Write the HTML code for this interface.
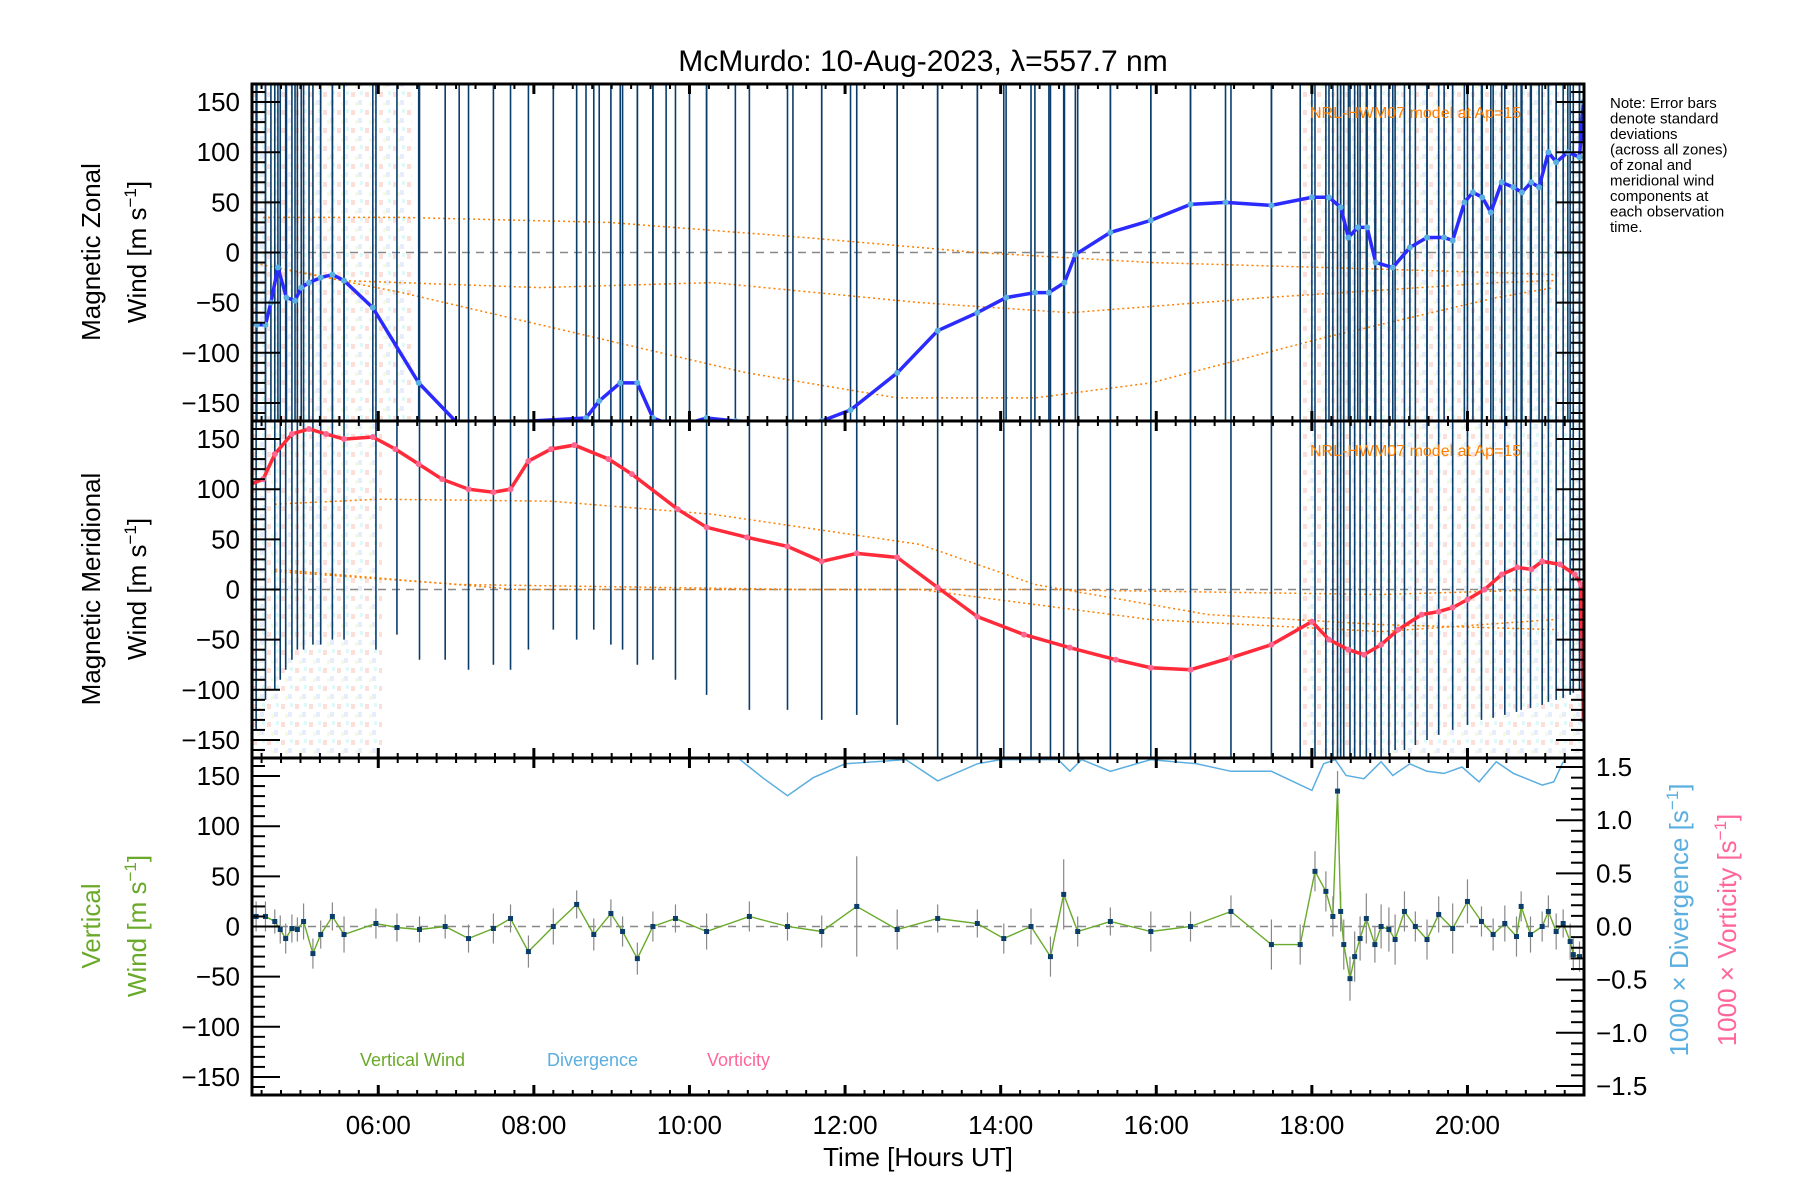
<!DOCTYPE html>
<html><head><meta charset="utf-8"><style>
html,body{margin:0;padding:0;background:#fff}
svg{display:block}
text{font-family:"Liberation Sans",sans-serif}
</style></head><body>
<svg id="chart" width="1800" height="1200" viewBox="0 0 1800 1200" xmlns="http://www.w3.org/2000/svg">
<defs>
<pattern id="scat" width="14" height="18" patternUnits="userSpaceOnUse">
<rect x="1" y="2" width="4" height="5" fill="#f9b8a8"/><rect x="8" y="10" width="4" height="5" fill="#c8d8f8"/><rect x="5" y="12" width="3" height="4" fill="#e8f8b0"/><rect x="10" y="1" width="3" height="4" fill="#b8f0f0"/>
</pattern>
<clipPath id="c0"><rect x="252" y="84" width="1332" height="337"/></clipPath>
<clipPath id="c1"><rect x="252" y="421" width="1332" height="337"/></clipPath>
<clipPath id="c2"><rect x="252" y="758" width="1332" height="336"/></clipPath>
</defs>
<text x="923" y="71" font-size="30" text-anchor="middle">McMurdo: 10-Aug-2023, λ=557.7 nm</text>
<g id="g"></g>
<g font-size="15">
<text x="1610" y="108">Note: Error bars</text><text x="1610" y="123.5">denote standard</text><text x="1610" y="139">deviations</text><text x="1610" y="154.5">(across all zones)</text><text x="1610" y="170">of zonal and</text><text x="1610" y="185.5">meridional wind</text><text x="1610" y="201">components at</text><text x="1610" y="216.5">each observation</text><text x="1610" y="232">time.</text>
</g>
</svg>
<script>
// ---- data ----
const zonalT=[4.36,4.44,4.55,4.62,4.71,4.82,4.93,5.01,5.11,5.26,5.41,5.56,5.93,6.52,7.04,8.67,8.84,9.11,9.33,9.53,9.70,10.0,10.22,10.59,11.33,11.70,12.07,12.67,13.19,13.70,14.07,14.44,14.62,14.82,14.96,15.41,15.93,16.44,16.89,17.48,18.0,18.22,18.37,18.47,18.59,18.71,18.82,19.04,19.26,19.48,19.70,19.81,19.96,20.07,20.19,20.30,20.44,20.59,20.70,20.82,20.92,21.04,21.14,21.29,21.44,21.49];
const zonalV=[-70,-72,-72,-50,-15,-45,-48,-35,-30,-25,-22,-28,-55,-130,-172,-165,-148,-130,-130,-165,-170,-170,-165,-168,-170,-168,-157,-120,-78,-60,-45,-40,-40,-30,-2,20,32,48,50,47,55,55,45,15,25,25,-10,-15,5,15,15,12,50,60,55,40,70,65,60,70,65,100,90,100,95,150];
const meridT=[4.36,4.52,4.67,4.89,5.11,5.33,5.56,5.93,6.22,6.52,6.82,7.16,7.48,7.70,7.93,8.22,8.52,8.96,9.26,9.85,10.22,10.74,11.26,11.70,12.15,12.67,13.19,13.70,14.30,14.89,15.48,15.93,16.44,16.96,17.48,18.0,18.22,18.47,18.67,18.89,19.11,19.41,19.63,19.81,20.0,20.22,20.44,20.64,20.82,20.96,21.19,21.38,21.46,21.49];
const meridV=[105,110,135,155,160,155,150,152,140,125,110,100,97,100,128,140,144,130,115,80,62,52,43,28,36,32,2,-27,-45,-58,-70,-78,-80,-68,-55,-32,-50,-60,-65,-55,-40,-25,-22,-18,-10,0,15,22,20,28,25,15,5,-130];
const vertT=[4.43,4.55,4.67,4.74,4.81,4.89,4.96,5.04,5.16,5.26,5.41,5.56,5.97,6.24,6.53,6.86,7.16,7.48,7.70,7.93,8.25,8.55,8.77,8.99,9.14,9.33,9.53,9.82,10.22,10.77,11.26,11.70,12.15,12.67,13.19,13.70,14.04,14.39,14.64,14.81,14.99,15.41,15.93,16.44,16.96,17.48,17.85,18.04,18.18,18.27,18.33,18.37,18.41,18.49,18.55,18.62,18.70,18.81,18.89,18.99,19.07,19.19,19.33,19.48,19.63,19.81,20.0,20.18,20.33,20.48,20.63,20.69,20.81,20.96,21.04,21.14,21.23,21.32,21.36,21.44];
const vertV=[10,10,5,-3,-12,-2,-3,5,-27,-8,10,-8,3,-1,-3,0,-12,-2,8,-25,0,22,-8,13,-5,-32,0,8,-5,10,0,-5,20,-3,8,3,-12,0,-30,32,-5,5,-5,0,15,-18,-18,55,35,10,135,15,-18,-52,-30,-12,8,-18,0,-3,-13,15,0,-13,12,-2,25,5,-8,3,-10,20,-8,0,15,-5,3,-15,-28,-30];
const vertS=[15,15,12,14,15,14,12,18,15,14,14,18,15,14,13,12,14,15,14,16,18,14,16,14,15,16,15,14,18,15,14,16,50,20,14,14,15,18,20,35,15,14,20,15,16,25,20,20,20,20,20,20,25,22,25,22,25,18,22,22,25,20,15,20,18,25,22,15,16,18,20,15,18,15,16,18,14,18,16,15];
// lower end of meridional error bars at each observation time (m/s)
const merBot=[-140,-110,-100,-90,-80,-70,-60,-60,-55,-55,-50,-50,-60,-45,-70,-70,-80,-75,-80,-60,-40,-50,-40,-55,-60,-75,-70,-90,-105,-120,-120,-130,-125,-135,-170,-170,-170,-170,-170,-170,-170,-170,-170,-170,-170,-170,-170,-170,-170,-170,-170,-170,-170,-170,-170,-170,-170,-170,-170,-165,-160,-160,-155,-150,-145,-140,-135,-130,-128,-125,-122,-120,-118,-115,-112,-110,-108,-105,-103,-100];
const divT=[10.65,10.94,11.26,11.59,12.0,12.78,13.19,13.70,14.0,14.74,14.89,15.04,15.41,15.93,16.52,16.96,17.48,18.0,18.15,18.30,18.44,18.67,18.89,19.04,19.26,19.48,19.70,19.93,20.15,20.37,20.59,20.96,21.11,21.23];
const divV=[1.57,1.40,1.23,1.40,1.53,1.57,1.37,1.53,1.57,1.57,1.46,1.57,1.46,1.57,1.53,1.46,1.46,1.28,1.53,1.57,1.42,1.39,1.55,1.42,1.53,1.46,1.44,1.50,1.36,1.55,1.44,1.33,1.36,1.55];
const modA_T=[4.52,6.3,8.96,11.48,13.70,15.93,18.15,20.37,21.11], modA_V=[35,35,30,15,0,-10,-15,-20,-22];
const modB_T=[4.36,5.56,8.07,10.3,12.96,14.89,17.41,20.37,21.11], modB_V=[-10,-28,-35,-30,-50,-60,-45,-30,-28];
const modC_T=[4.67,6.3,8.52,10.74,12.67,14.44,15.93,18.15,20.37,21.11], modC_V=[-15,-40,-80,-120,-145,-145,-130,-85,-45,-35];
const modD_T=[4.67,6.0,8.22,10.3,12.96,14.44,16.67,18.89,21.11], modD_V=[85,90,88,75,45,5,-25,-35,-40];
const modE_T=[4.67,7.04,11.48,14.44,18.89,21.11], modE_V=[18,5,0,0,-5,0];
const modF_T=[4.67,7.78,12.96,15.93,18.89,21.11], modF_V=[20,0,0,-30,-42,-30];
const xTicks=[6,8,10,12,14,16,18,20];
const xTickLabels=["06:00","08:00","10:00","12:00","14:00","16:00","18:00","20:00"];
const yTicks=[-150,-100,-50,0,50,100,150];
const rTicks=[-1.5,-1.0,-0.5,0.0,0.5,1.0,1.5];
// ---- geometry ----
const L=252,R=1584,T0=4.377,PX=77.8;
const tops=[84,421,758],H=337;
const x=t=>L+(t-T0)*PX;
const y=(p,v)=>tops[p]+H/2-v*(H/2)/168;
const yr=v=>tops[2]+H/2-v*(H/2)/1.585;
const g=document.getElementById('g');
const NS='http://www.w3.org/2000/svg';
function mk(tag,attrs,parent){const e=document.createElementNS(NS,tag);for(const k in attrs)e.setAttribute(k,attrs[k]);(parent||g).appendChild(e);return e;}
function grp(name,clip){const e=mk('g',clip?{'clip-path':'url(#'+clip+')'}:{});


return e;}
const bg=grp('zone-scatter-background');
[[0,252,160],[0,1300,284],[1,252,130],[1,1300,284]].forEach(r=>{mk('rect',{x:r[1],y:tops[r[0]],width:r[2],height:H,fill:'url(#scat)',opacity:0.45},bg);});
for(let p=0;p<3;p++){const z=mk('line',{x1:L,x2:R,y1:y(p,0),y2:y(p,0),stroke:'#888','stroke-dasharray':'8,6','stroke-width':1.5});

}
function polyline(ts,vs,fn,attrs,parent){const pts=ts.map((t,i)=>x(t).toFixed(1)+','+fn(vs[i]).toFixed(1)).join(' ');return mk('polyline',Object.assign({points:pts,fill:'none'},attrs),parent);}
const mg0=grp('hwm07-model-zonal','c0');
[[modA_T,modA_V],[modB_T,modB_V],[modC_T,modC_V]].forEach(m=>polyline(m[0],m[1],v=>y(0,v),{stroke:'#ff7f00','stroke-width':1.5,'stroke-dasharray':'2,3'},mg0));
const mg1=grp('hwm07-model-meridional','c1');
[[modD_T,modD_V],[modE_T,modE_V],[modF_T,modF_V]].forEach(m=>polyline(m[0],m[1],v=>y(1,v),{stroke:'#ff7f00','stroke-width':1.5,'stroke-dasharray':'2,3'},mg1));
const eb0=grp('zonal-error-bars','c0');
zonalT.concat(vertT).forEach(t=>{const l=mk('line',{x1:x(t),x2:x(t),y1:tops[0],y2:tops[0]+H,stroke:'#0b3d6b','stroke-width':1.6},eb0);

});
const eb1=grp('meridional-error-bars','c1');
vertT.forEach((t,i)=>{const l=mk('line',{x1:x(t),x2:x(t),y1:tops[1],y2:y(1,merBot[i]),stroke:'#0b3d6b','stroke-width':1.6},eb1);

});
const zg=grp('zonal-wind-series','c0');
polyline(zonalT,zonalV,v=>y(0,v),{stroke:'#2b2bff','stroke-width':3.5},zg);
zonalT.forEach((t,i)=>{const c=mk('circle',{cx:x(t),cy:y(0,zonalV[i]),r:3,fill:'#5ab0e0'},zg);

});
const mgl=grp('meridional-wind-series','c1');
polyline(meridT,meridV,v=>y(1,v),{stroke:'#ff2a3a','stroke-width':3.5},mgl);
meridT.forEach((t,i)=>{const c=mk('circle',{cx:x(t),cy:y(1,meridV[i]),r:3,fill:'#ff6690'},mgl);

});
const dg=grp('divergence-series','c2');
polyline(divT,divV,yr,{stroke:'#5aaee0','stroke-width':1.5},dg);
const vg=grp('vertical-wind-series','c2');
vertT.forEach((t,i)=>{const l=mk('line',{x1:x(t),x2:x(t),y1:y(2,vertV[i]+vertS[i]),y2:y(2,vertV[i]-vertS[i]),stroke:'#888','stroke-width':1.2},vg);

});
polyline(vertT,vertV,v=>y(2,v),{stroke:'#6aaa2a','stroke-width':1.4},vg);
vertT.forEach((t,i)=>{const r=mk('rect',{x:x(t)-2.5,y:y(2,vertV[i])-2.5,width:5,height:5,fill:'#0b3d6b'},vg);

});
const ax=grp('axes');
for(let p=0;p<3;p++){const f=mk('rect',{x:L,y:tops[p],width:R-L,height:H,fill:'none',stroke:'#000','stroke-width':3},ax);


for(let t=4.5;t<21.6;t+=0.25){const xx=x(t);if(xx<L+2||xx>R-2)continue;const maj=Math.abs(t-Math.round(t/2)*2)<1e-6;const len=maj?10:5;
mk('line',{x1:xx,x2:xx,y1:tops[p],y2:tops[p]+len,stroke:'#000','stroke-width':maj?3:2},ax);
mk('line',{x1:xx,x2:xx,y1:tops[p]+H,y2:tops[p]+H-len,stroke:'#000','stroke-width':maj?3:2},ax);}
for(let v=-160;v<=160;v+=10){const yy=y(p,v);const maj=v%50===0;const len=maj?28:13;
mk('line',{x1:L,x2:L+len,y1:yy,y2:yy,stroke:'#000','stroke-width':2},ax);
if(p<2)mk('line',{x1:R,x2:R-len,y1:yy,y2:yy,stroke:'#000','stroke-width':2},ax);}
yTicks.forEach(v=>{const tx=mk('text',{x:L-12,y:y(p,v)+9,'font-size':26,'text-anchor':'end'},ax);tx.textContent=(v<0?'\u2212'+(-v):v);

});}
for(let v=-1.5;v<=1.51;v+=0.1){const yy=yr(v);const maj=Math.abs(v*2-Math.round(v*2))<1e-6;mk('line',{x1:R,x2:R-(maj?28:13),y1:yy,y2:yy,stroke:'#000','stroke-width':2},ax);}
rTicks.forEach(v=>{const tx=mk('text',{x:R+12,y:yr(v)+9,'font-size':26},ax);tx.textContent=(v<0?'\u2212':'')+Math.abs(v).toFixed(1);

});
xTicks.forEach((t,i)=>{const tx=mk('text',{x:x(t),y:1134,'font-size':26,'text-anchor':'middle'},ax);tx.textContent=xTickLabels[i];

});
</script>
<svg style="position:absolute;left:0;top:0" width="1800" height="1200" xmlns="http://www.w3.org/2000/svg">
<text x="918" y="1166" font-size="26" text-anchor="middle">Time [Hours UT]</text>
<g font-size="26" text-anchor="middle">
<text transform="translate(100,252) rotate(-90)">Magnetic Zonal</text>
<text transform="translate(146,252) rotate(-90)">Wind [m s<tspan dy="-10" font-size="17">−1</tspan><tspan dy="10">]</tspan></text>
<text transform="translate(100,589) rotate(-90)">Magnetic Meridional</text>
<text transform="translate(146,589) rotate(-90)">Wind [m s<tspan dy="-10" font-size="17">−1</tspan><tspan dy="10">]</tspan></text>
<text fill="#6aaa2a" transform="translate(100,926) rotate(-90)">Vertical</text>
<text fill="#6aaa2a" transform="translate(146,926) rotate(-90)">Wind [m s<tspan dy="-10" font-size="17">−1</tspan><tspan dy="10">]</tspan></text>
<text fill="#5aaee0" transform="translate(1688,920) rotate(-90)">1000 × Divergence [s<tspan dy="-10" font-size="17">−1</tspan><tspan dy="10">]</tspan></text>
<text fill="#ff6699" transform="translate(1736,930) rotate(-90)">1000 × Vorticity [s<tspan dy="-10" font-size="17">−1</tspan><tspan dy="10">]</tspan></text>
</g>
<g font-size="18">
<text x="360" y="1066" fill="#6aaa2a">Vertical Wind</text>
<text x="547" y="1066" fill="#5aaee0">Divergence</text>
<text x="707" y="1066" fill="#ff6699">Vorticity</text>
<text x="1310" y="118" fill="#ff7f00" font-size="16">NRL-HWM07 model at Ap=15</text>
<text x="1310" y="456" fill="#ff7f00" font-size="16">NRL-HWM07 model at Ap=15</text>
</g>
</svg>
</body></html>
